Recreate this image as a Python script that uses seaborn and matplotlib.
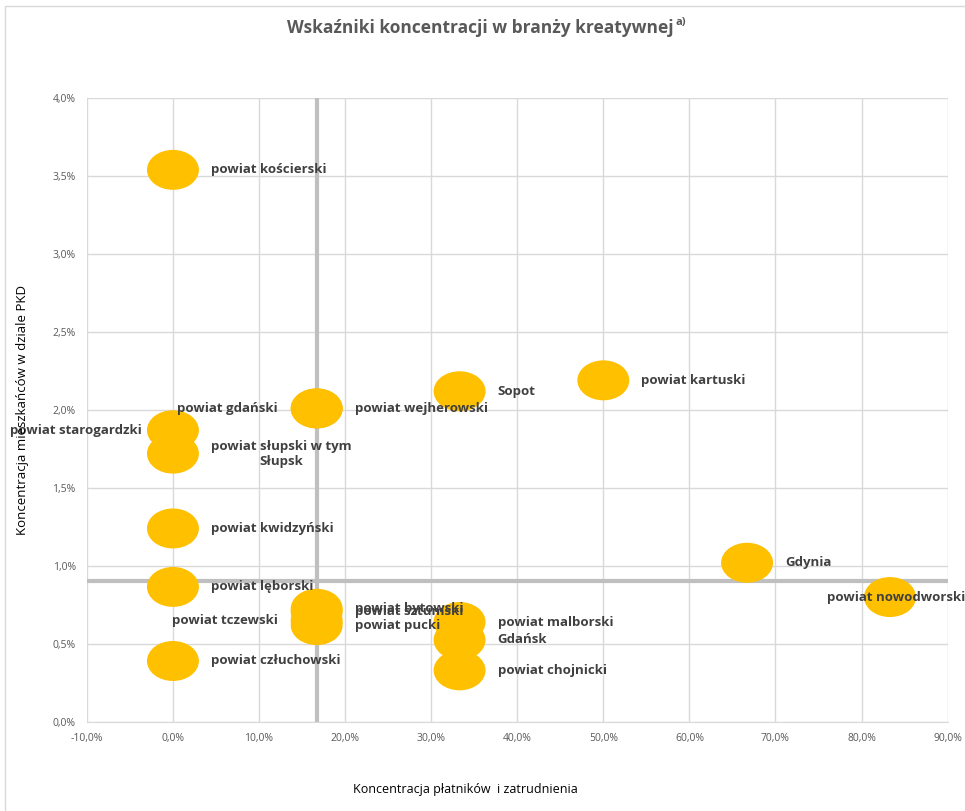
import numpy as np
import pandas as pd
import matplotlib
matplotlib.use("Agg")
import matplotlib.pyplot as plt
import seaborn as sns
from matplotlib.path import Path
from matplotlib.patches import Rectangle
from matplotlib.ticker import FuncFormatter, MultipleLocator

# dane (w %)
nazwy = ["powiat kościerski", "powiat gdański", "powiat wejherowski", "Sopot", "powiat kartuski",
         "powiat starogardzki", "powiat słupski w tym\nSłupsk", "powiat kwidzyński", "Gdynia",
         "powiat nowodworski", "powiat lęborski", "powiat bytowski", "powiat sztumski",
         "powiat tczewski", "powiat pucki", "powiat malborski", "Gdańsk", "powiat chojnicki",
         "powiat człuchowski"]
platnicy = [0.0, 16.7, 16.7, 33.3, 50.0,
            0.0, 0.0, 0.0, 66.7,
            83.3, 0.0, 16.7, 16.7,
            16.7, 16.7, 33.3, 33.3, 33.3,
            0.0]
mieszkancy = [3.54, 2.01, 2.01, 2.12, 2.19,
              1.87, 1.72, 1.24, 1.02,
              0.80, 0.865, 0.725, 0.705,
              0.65, 0.62, 0.64, 0.525, 0.33,
              0.39]
srednia_x = 16.7
srednia_y = 0.90

df = pd.DataFrame({"nazwa": nazwy, "x": platnicy, "y": mieszkancy})

# polozenie etykiet (przesuniecie w pikselach)
etykiety_lewo = {"powiat starogardzki": -31, "powiat gdański": -39, "powiat tczewski": -39}

plt.rcParams["font.family"] = ["Open Sans", "DejaVu Sans"]
fig = plt.figure(figsize=(9.65, 8.11), dpi=100)
ax = fig.add_axes([0.090, 0.110, 0.892, 0.769])

# elipsa jak w Excelu
kolo = Path.unit_circle()
elipsa = Path(kolo.vertices * np.array([1.3, 1.0]), kolo.codes)

sns.scatterplot(data=df, x="x", y="y", ax=ax, marker=elipsa, s=1400,
                color="#FFC000", edgecolor="none", linewidth=0, zorder=3, legend=False)

ax.axvline(srednia_x, color="#BFBFBF", lw=3, zorder=2)
ax.axhline(srednia_y, color="#BFBFBF", lw=3, zorder=2)

fs = 9.5
for n, x, y in zip(nazwy, platnicy, mieszkancy):
    if n in etykiety_lewo:
        ax.annotate(n, (x, y), xytext=(etykiety_lewo[n], 0), textcoords="offset pixels",
                    ha="right", va="center", fontsize=fs, fontweight="bold", color="#404040", zorder=4)
    elif n == "powiat nowodworski":
        ax.annotate(n, (x, y), xytext=(-63, 0), textcoords="offset pixels",
                    ha="left", va="center", fontsize=fs, fontweight="bold", color="#404040",
                    zorder=4, annotation_clip=False)
    else:
        ax.annotate(n, (x, y), xytext=(38, 0), textcoords="offset pixels",
                    ha="left", va="center", multialignment="center", fontsize=fs,
                    fontweight="bold", color="#404040", zorder=4)

ax.set_xlim(-10, 90)
ax.set_ylim(0, 4.0)
ax.xaxis.set_major_locator(MultipleLocator(10))
ax.yaxis.set_major_locator(MultipleLocator(0.5))
ax.xaxis.set_major_formatter(FuncFormatter(lambda v, p: f"{v:.1f}%".replace(".", ",")))
ax.yaxis.set_major_formatter(FuncFormatter(lambda v, p: f"{v:.1f}%".replace(".", ",")))
ax.grid(True, color="#D9D9D9", lw=1, zorder=0)
ax.set_axisbelow(True)
for s in ["top", "right", "left"]:
    ax.spines[s].set_visible(False)
ax.spines["bottom"].set_color("#D9D9D9")
ax.tick_params(length=0, labelsize=7.5, colors="#595959", pad=8)

ax.set_xlabel("")
ax.set_ylabel("")
fig.text(0.482, 0.026, "Koncentracja płatników  i zatrudnienia", ha="center", va="center",
         fontsize=9, color="black")
fig.text(0.023, 0.494, "Koncentracja mieszkańców w dziale PKD", ha="center", va="center",
         rotation=90, fontsize=9.5, color="black")

tytul = fig.text(0.297, 0.965, "Wskaźniki koncentracji w branży kreatywnej", ha="left", va="center",
                 fontsize=12.5, fontweight="bold", color="#595959")
fig.canvas.draw()
bb = tytul.get_window_extent().transformed(fig.transFigure.inverted())
fig.text(bb.x1 + 0.002, 0.972, "a)", ha="left", va="center", fontsize=8, fontweight="bold", color="#595959")

fig.patches.append(Rectangle((0.005, -0.01), 1.1, 1.002, transform=fig.transFigure,
                             fill=False, edgecolor="#D9D9D9", lw=1))

fig.savefig("out.png", dpi=100)
